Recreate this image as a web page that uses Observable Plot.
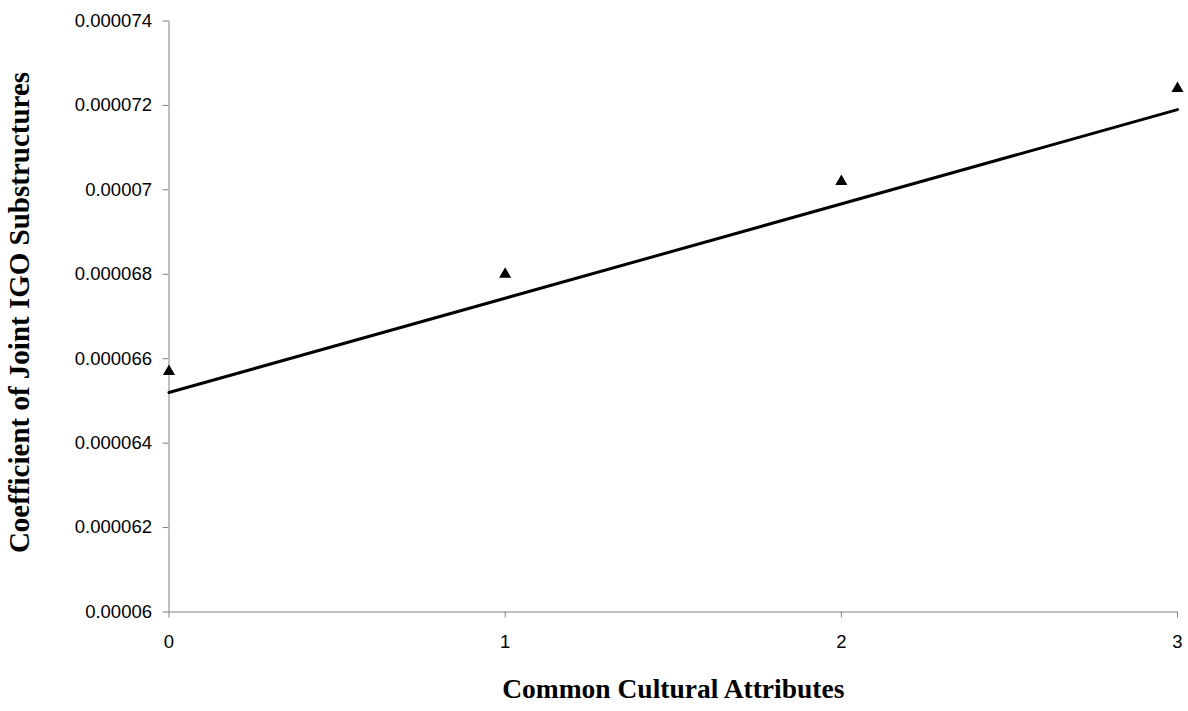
<!DOCTYPE html>
<html>
<head>
<meta charset="utf-8">
<script src="https://cdn.jsdelivr.net/npm/d3@7"></script>
<script src="https://cdn.jsdelivr.net/npm/@observablehq/plot@0.6"></script>
<style>
  html, body { margin: 0; padding: 0; background: #fff; }
</style>
</head>
<body>
<div id="chart"></div>
<script>
// Data
const attributes = [0, 1, 2, 3];
const coefficients = [0.0000657, 0.0000680, 0.0000702, 0.0000724];
const trendX = [0, 3];
const trendY = [0.0000652, 0.0000719];
const yTickValues = [0.00006, 0.000062, 0.000064, 0.000066, 0.000068, 0.00007, 0.000072, 0.000074];
const yTickLabels = ["0.00006", "0.000062", "0.000064", "0.000066", "0.000068", "0.00007", "0.000072", "0.000074"];
const xTickValues = [0, 1, 2, 3];
const xTickLabels = ["0", "1", "2", "3"];
const xTitle = "Common Cultural Attributes";
const yTitle = "Coefficient of Joint IGO Substructures";

const points = attributes.map((a, i) => ({x: a, y: coefficients[i]}));
const trend = trendX.map((a, i) => ({x: a, y: trendY[i]}));

const serif = "Liberation Serif, Times New Roman, serif";
const sans = "Liberation Sans, Arial, sans-serif";

const chart = Plot.plot({
  width: 1188,
  height: 711,
  marginLeft: 168.5,
  marginRight: 11,
  marginTop: 20.5,
  marginBottom: 99.5,
  style: {fontFamily: sans, color: "black", background: "white"},
  x: {domain: [0, 3]},
  y: {domain: [0.00006, 0.000074]},
  marks: [
    // tick marks only (labels drawn below as text marks)
    Plot.axisY({ticks: yTickValues, tickFormat: () => "", tickSize: 6, stroke: "#808080", label: null}),
    Plot.axisX({ticks: xTickValues, tickFormat: () => "", tickSize: 6, stroke: "#808080", label: null}),
    Plot.text(yTickValues, {
      y: (d) => d, text: (d, i) => yTickLabels[i],
      frameAnchor: "left", textAnchor: "end", dx: -17,
      fontFamily: sans, fontSize: 18.5, fill: "black"
    }),
    Plot.text(xTickValues, {
      x: (d) => d, text: (d, i) => xTickLabels[i],
      frameAnchor: "bottom", lineAnchor: "top", dy: 23,
      fontFamily: sans, fontSize: 18.5, fill: "black"
    }),
    Plot.ruleX([0], {stroke: "#808080", strokeWidth: 1}),
    Plot.ruleY([0.00006], {stroke: "#808080", strokeWidth: 1}),
    Plot.line(trend, {x: "x", y: "y", stroke: "black", strokeWidth: 3}),
    Plot.dot(points, {x: "x", y: "y", symbol: "triangle", r: 4.5, fill: "black", stroke: "none"}),
    Plot.text([xTitle], {
      frameAnchor: "bottom", dy: 85.5, textAnchor: "middle",
      fontFamily: serif, fontWeight: "bold", fontSize: 27.5, fill: "black"
    }),
    Plot.text([yTitle], {
      frameAnchor: "left", dx: -149.5, dy: -4, rotate: -90, textAnchor: "middle",
      fontFamily: serif, fontWeight: "bold", fontSize: 29, fill: "black"
    })
  ]
});
document.getElementById("chart").appendChild(chart);
</script>
</body>
</html>
